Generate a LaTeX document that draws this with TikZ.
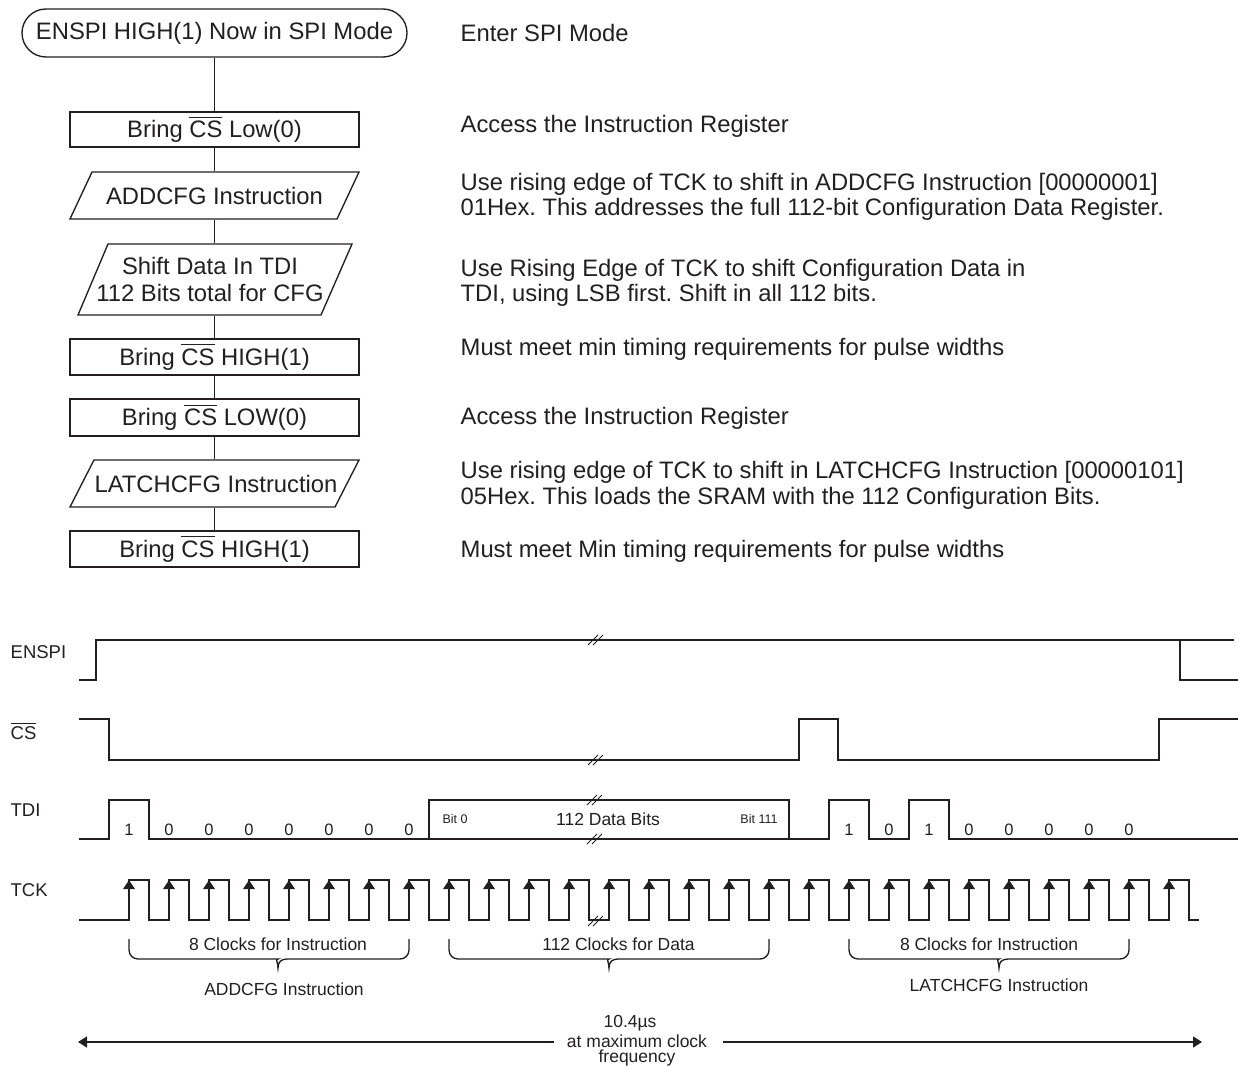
\documentclass[tikz,border=0pt]{standalone}
\usepackage{fontspec}
\setmainfont{Liberation Sans}
\usetikzlibrary{arrows.meta}
\definecolor{ink}{RGB}{35,31,32}
\newcommand\fsA{\fontsize{23.8}{27}\selectfont}
\newcommand\fsB{\fontsize{18.5}{21}\selectfont}
\newcommand\fsC{\fontsize{17.5}{20}\selectfont}
\newcommand\fsD{\fontsize{16.5}{19}\selectfont}
\newcommand\fsE{\fontsize{12.5}{15}\selectfont}
\newcommand\ovl[1]{\vbox{\hrule height 0.055em\kern0.13em\hbox{#1}}}
\newcommand\mybrace[3]{%
  \draw (#1,939) [rounded corners=9pt] -- (#1,959) -- ({#2-9},959) [sharp corners]
    .. controls ({#2-3},959) and (#2,962) .. (#2,968)
    .. controls (#2,962) and ({#2+3},959) .. ({#2+9},959)
    [rounded corners=9pt] -- (#3,959) -- (#3,939);}
\tikzset{
  term/.style={draw, rounded corners=24pt, minimum width=385pt, minimum height=48pt, inner sep=0pt, font=\fsA},
  fbox/.style={draw, minimum width=289pt, minimum height=36pt, inner sep=0pt, font=\fsA},
  ptext/.style={minimum height=47pt, inner sep=0pt, font=\fsA, align=center},
  rtext/.style={anchor=base west, inner sep=0pt, font=\fsA},
  slabel/.style={anchor=base west, inner sep=0pt, font=\fsB},
  bit/.style={anchor=base, inner sep=0pt, font=\fsD},
  small/.style={anchor=base, inner sep=0pt, font=\fsE},
  blabel/.style={anchor=base, inner sep=0pt, font=\fsC},
  brk/.pic={\draw[line width=1pt] (-9,5) -- (1,-5) (-4,5) -- (6,-5);},
  arr/.style={-{Triangle[length=9pt,width=11pt]}}
}
\begin{document}
\frenchspacing
\begin{tikzpicture}[x=1pt,y=-1pt,line width=1.35pt,color=ink]
\useasboundingbox (0,0) rectangle (1238,1065);

% ---- flowchart ----
\node[term] (t0) at (214.5,33) {ENSPI HIGH(1) Now in SPI Mode};
\node[fbox, minimum height=35pt] (b1) at (214.5,129.5) {Bring \ovl{CS} Low(0)};
\node[ptext] (p1) at (214.5,195.5) {ADDCFG Instruction};
\node[ptext, minimum height=71pt] (p2) at (210,279.5) {Shift Data In TDI\\112 Bits total for CFG};
\node[fbox] (b2) at (214.5,357) {Bring \ovl{CS} HIGH(1)};
\node[fbox, minimum height=37pt] (b3) at (214.5,417.5) {Bring \ovl{CS} LOW(0)};
\node[ptext] (p3) at (216,483.5) {LATCHCFG Instruction};
\node[fbox] (b4) at (214.5,549) {Bring \ovl{CS} HIGH(1)};

\draw (70,219) -- (92,172) -- (359,172) -- (337,219) -- cycle;
\draw (78,315) -- (108,244) -- (352,244) -- (321,315) -- cycle;
\draw (70,507) -- (94,460) -- (359,460) -- (335,507) -- cycle;

\draw (t0) -- (b1);
\draw (b1) -- (p1);
\draw (p1.south) -- (p1.south |- p2.north);
\draw (b2.north |- p2.south) -- (b2.north);
\draw (b2) -- (b3);
\draw (b3.south) -- (b3.south |- p3.north);
\draw (b4.north |- p3.south) -- (b4.north);

% ---- right column text ----
\node[rtext] (r1) at (460,41.5) {Enter SPI Mode};
\node[rtext] (r2) at (460,132) {Access the Instruction Register};
\node[rtext] (r3a) at (460,190) {Use rising edge of TCK to shift in ADDCFG Instruction [00000001]};
\node[rtext] (r3b) at (460,215) {01Hex. This addresses the full 112-bit Configuration Data Register.};
\node[rtext] (r4a) at (460,276) {Use Rising Edge of TCK to shift Configuration Data in};
\node[rtext] (r4b) at (460,301) {TDI, using LSB first. Shift in all 112 bits.};
\node[rtext] (r5) at (460,355) {Must meet min timing requirements for pulse widths};
\node[rtext] (r6) at (460,424) {Access the Instruction Register};
\node[rtext] (r7a) at (460,478) {Use rising edge of TCK to shift in LATCHCFG Instruction [00000101]};
\node[rtext] (r7b) at (460,504) {05Hex. This loads the SRAM with the 112 Configuration Bits.};
\node[rtext] (r8) at (460,557) {Must meet Min timing requirements for pulse widths};

% ---- signal labels ----
\node[slabel] (lE) at (10,658.5) {ENSPI};
\node[slabel] (lC) at (10,739.5) {\ovl{CS}};
\node[slabel] (lT) at (10,816.5) {TDI};
\node[slabel] (lK) at (10,896.5) {TCK};

% ---- ENSPI ----
\draw (79,680) -- (96,680) -- (96,640) -- (1234,640);
\draw (1180,640) -- (1180,680) -- (1238,680);
\pic at (597,640) {brk};

% ---- CS ----
\draw (79,719) -- (109,719) -- (109,760) -- (799,760) -- (799,719) -- (838,719)
  -- (838,760) -- (1159,760) -- (1159,719) -- (1238,719);
\pic at (597,760) {brk};

% ---- TDI ----
\draw (79,839) -- (109,839) -- (109,800) -- (149,800) -- (149,839) -- (829,839)
  -- (829,800) -- (869,800) -- (869,839) -- (909,839) -- (909,800) -- (949,800)
  -- (949,839) -- (1238,839);
\draw (429,839) -- (429,800) -- (789,800) -- (789,839);
\pic at (596,800) {brk};
\pic at (596,839) {brk};
\foreach \v [count=\i from 0] in {1,0,0,0,0,0,0,0}
  \node[bit] (ba\i) at ({129+40*\i},835.5) {\v};
\foreach \v [count=\i from 0] in {1,0,1,0,0,0,0,0}
  \node[bit] (bb\i) at ({849+40*\i},835.5) {\v};
\node[small] (bit0) at (455,823.5) {Bit 0};
\node[blabel] (dbits) at (608,825.3) {112 Data Bits};
\node[small] (bit111) at (759,823.5) {Bit 111};

% ---- TCK ----
\draw (79,920) foreach \k in {0,...,26} { -- ({129+40*\k},920) -- ({129+40*\k},880)
  -- ({149+40*\k},880) -- ({149+40*\k},920) } -- (1199,920);
\foreach \k in {0,...,26}
  \fill ({129+40*\k},880) -- ++(-6,9) -- ++(12,0) -- cycle;
\pic at (597,921) {brk};

% ---- braces ----
\mybrace{129}{278}{409}
\mybrace{449}{609}{769}
\mybrace{849}{999}{1129}
\node[blabel] (c1) at (278,950) {8 Clocks for Instruction};
\node[blabel] (c2) at (618.5,950) {112 Clocks for Data};
\node[blabel] (c3) at (989,950) {8 Clocks for Instruction};
\node[blabel] (i1) at (284,995) {ADDCFG Instruction};
\node[blabel] (i3) at (999,991) {LATCHCFG Instruction};

% ---- duration arrow ----
\coordinate (aL) at (78,1042);
\coordinate (aR) at (1202,1042);
\node[blabel] (tu) at (630,1027) {10.4µs};
\node[blabel] (tm) at (637,1047) {at maximum clock};
\node[blabel] (tf) at (637,1062.5) {frequency};
\draw[arr] ([xshift=-12pt]tm.west |- aL) -- (aL);
\draw[arr] ([xshift=15pt]tm.east |- aR) -- (aR);
\end{tikzpicture}
\end{document}
